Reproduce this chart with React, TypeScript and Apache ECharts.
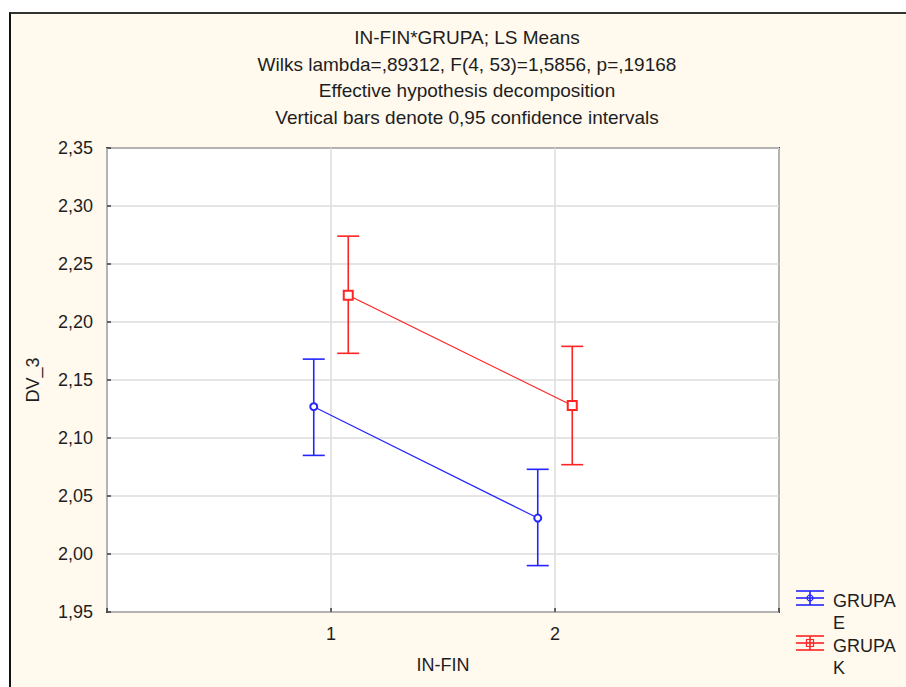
import React, { useEffect, useRef } from "react";
import * as echarts from "echarts";

const TITLE_LINES = [
  "IN-FIN*GRUPA; LS Means",
  "Wilks lambda=,89312, F(4, 53)=1,5856, p=,19168",
  "Effective hypothesis decomposition",
  "Vertical bars denote 0,95 confidence intervals",
];
const X_LEVELS = [1, 2];
const X_NAME = "IN-FIN";
const Y_NAME = "DV_3";
const GROUP_NAMES = ["GRUPA\nE", "GRUPA\nK"];
const MEAN_E = [2.127, 2.031];
const LOW_E = [2.085, 1.99];
const HIGH_E = [2.168, 2.073];
const MEAN_K = [2.223, 2.128];
const LOW_K = [2.173, 2.077];
const HIGH_K = [2.274, 2.179];

const BLUE = "#2424ff";
const RED = "#ff2424";
const TXT = "#1e1e1e";
const FONT = "'Liberation Sans', Arial, sans-serif";
const DODGE = 0.077;

function errSeries(name: string, color: string, xs: number[], lo: number[], hi: number[]) {
  return {
    name,
    type: "custom",
    data: xs.map((x, i) => [x, lo[i], hi[i]]),
    z: 3,
    renderItem: (params: any, api: any) => {
      const x = api.value(0);
      const pLo = api.coord([x, api.value(1)]);
      const pHi = api.coord([x, api.value(2)]);
      const w = 11;
      const style = { stroke: color, lineWidth: 1.6 };
      return {
        type: "group",
        children: [
          { type: "line", shape: { x1: pLo[0], y1: pLo[1], x2: pHi[0], y2: pHi[1] }, style },
          { type: "line", shape: { x1: pHi[0] - w, y1: pHi[1], x2: pHi[0] + w, y2: pHi[1] }, style },
          { type: "line", shape: { x1: pLo[0] - w, y1: pLo[1], x2: pLo[0] + w, y2: pLo[1] }, style },
        ],
      };
    },
  };
}

function legendItem(y0: number, color: string, label: string, square: boolean) {
  const style = { stroke: color, lineWidth: 1.6 };
  const marker = square
    ? { type: "rect", shape: { x: 806.5, y: y0 - 3.5, width: 7, height: 7 }, style: { stroke: color, fill: "none", lineWidth: 1.2 } }
    : { type: "circle", shape: { cx: 810, cy: y0, r: 3 }, style: { stroke: color, fill: "none", lineWidth: 1.2 } };
  return [
    { type: "line", shape: { x1: 796, y1: y0, x2: 824, y2: y0 }, style },
    { type: "line", shape: { x1: 796, y1: y0 - 7, x2: 824, y2: y0 - 7 }, style },
    { type: "line", shape: { x1: 796, y1: y0 + 7, x2: 824, y2: y0 + 7 }, style },
    { type: "line", shape: { x1: 810, y1: y0 - 7, x2: 810, y2: y0 + 7 }, style },
    marker,
    {
      type: "text",
      x: 833,
      y: y0 - 8,
      style: { text: label, fill: TXT, font: `18px ${FONT}`, lineHeight: 22, textAlign: "left", textVerticalAlign: "top" },
    },
  ];
}

export default function App() {
  const ref = useRef<HTMLDivElement>(null);
  useEffect(() => {
    if (!ref.current) return;
    const chart = echarts.init(ref.current, undefined, { renderer: "svg" });
    const xsE = X_LEVELS.map((x) => x - DODGE);
    const xsK = X_LEVELS.map((x) => x + DODGE);
    const option: any = {
      animation: false,
      backgroundColor: "transparent",
      textStyle: { fontFamily: FONT },
      title: {
        text: TITLE_LINES.join("\n"),
        left: 462,
        top: 19,
        textAlign: "center",
        textStyle: { fontSize: 19, fontWeight: "normal", lineHeight: 26.7, color: TXT, fontFamily: FONT },
      },
      grid: {
        left: 107,
        top: 148,
        right: 127,
        bottom: 75,
        show: true,
        backgroundColor: "#ffffff",
        borderColor: "#3a3a3a",
        borderWidth: 2,
      },
      xAxis: {
        type: "value",
        min: 0,
        max: 3,
        interval: 1,
        name: X_NAME,
        nameLocation: "middle",
        nameGap: 44,
        nameTextStyle: { fontSize: 18, color: TXT },
        axisLine: { show: false },
        axisTick: { show: true, inside: true, length: 4, lineStyle: { color: "#3a3a3a", width: 1.5 } },
        axisLabel: {
          fontSize: 18,
          color: TXT,
          margin: 13,
          formatter: (v: number) => (X_LEVELS.indexOf(v) >= 0 ? String(v) : ""),
        },
        splitLine: { show: true, lineStyle: { color: "#dcdcdc", width: 1.5 } },
      },
      yAxis: {
        type: "value",
        min: 1.95,
        max: 2.35,
        interval: 0.05,
        name: Y_NAME,
        nameLocation: "middle",
        nameGap: 65,
        nameTextStyle: { fontSize: 18, color: TXT },
        axisLine: { show: false },
        axisTick: { show: true, inside: true, length: 4, lineStyle: { color: "#3a3a3a", width: 1.5 } },
        axisLabel: {
          fontSize: 18,
          color: TXT,
          margin: 14,
          formatter: (v: number) => v.toFixed(2).replace(".", ","),
        },
        splitLine: { show: true, lineStyle: { color: "#dcdcdc", width: 1.5 } },
      },
      series: [
        errSeries("GRUPA E CI", BLUE, xsE, LOW_E, HIGH_E),
        errSeries("GRUPA K CI", RED, xsK, LOW_K, HIGH_K),
        {
          name: GROUP_NAMES[0],
          type: "line",
          data: xsE.map((x, i) => [x, MEAN_E[i]]),
          symbol: "emptyCircle",
          symbolSize: 7,
          lineStyle: { color: BLUE, width: 1.2 },
          itemStyle: { color: BLUE, borderWidth: 1.2 },
          z: 4,
        },
        {
          name: GROUP_NAMES[1],
          type: "line",
          data: xsK.map((x, i) => [x, MEAN_K[i]]),
          symbol: "emptyRect",
          symbolSize: 9,
          lineStyle: { color: RED, width: 1.2 },
          itemStyle: { color: RED, borderWidth: 1.2 },
          z: 4,
        },
      ],
      graphic: [...legendItem(598, BLUE, GROUP_NAMES[0], false), ...legendItem(643, RED, GROUP_NAMES[1], true)],
    };
    chart.setOption(option);
    return () => chart.dispose();
  }, []);
  return (
    <div style={{ position: "fixed", left: 0, top: 0, width: 906, height: 687, background: "#ffffff", overflow: "hidden" }}>
      <div
        style={{
          position: "absolute",
          left: 9,
          top: 12,
          width: 1000,
          height: 1000,
          borderLeft: "2px solid #111",
          borderTop: "2px solid #333",
          background: "#fff9ee",
        }}
      />
      <div ref={ref} style={{ position: "absolute", left: 0, top: 0, width: 906, height: 687 }} />
    </div>
  );
}
